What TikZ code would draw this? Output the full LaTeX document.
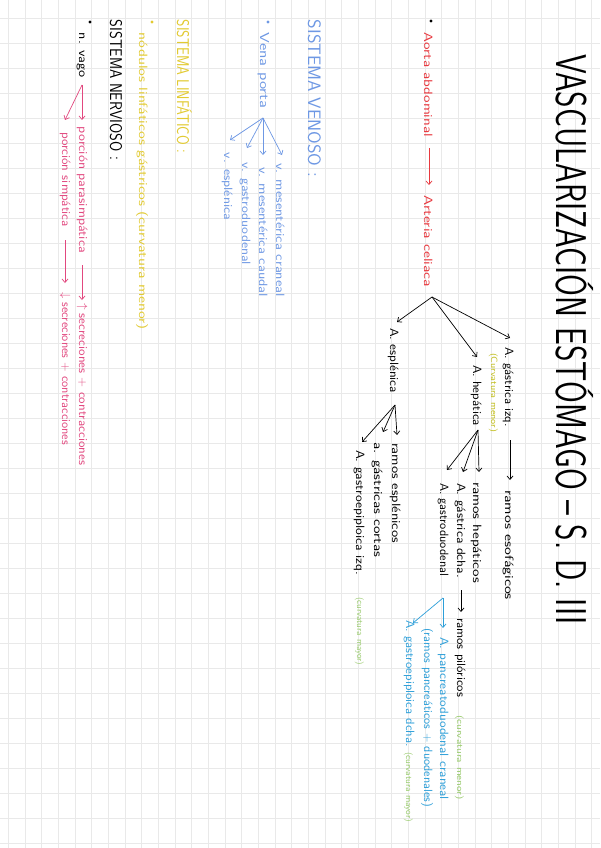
\documentclass[tikz,border=0pt]{standalone}
\usepackage{graphicx}
\usetikzlibrary{arrows.meta}
\definecolor{cred}{HTML}{E8393F}
\definecolor{colive}{HTML}{C2BE1E}
\definecolor{cgreen}{HTML}{9ACB6E}
\definecolor{cblue}{HTML}{2D9FD9}
\definecolor{cvein}{HTML}{6E98E4}
\definecolor{cyel}{HTML}{E2CA30}
\definecolor{cpink}{HTML}{E2487F}
\definecolor{cgrid}{HTML}{E9E9E9}
\newcommand{\fitw}[2]{\resizebox{#1pt}{\height}{#2}}
\begin{document}
\begin{tikzpicture}[x=1pt,y=-1pt,
  txt/.style={rotate=-90, anchor=base west, inner sep=0pt, outer sep=0pt},
  body/.style={txt, font=\sffamily\fontsize{12}{14}\selectfont},
  small/.style={txt, font=\sffamily\fontsize{9}{11}\selectfont},
  head/.style={txt, font=\sffamily\fontsize{18}{20}\selectfont},
  arr/.style={-{Straight Barb[length=3.5pt,width=6pt]}, line width=0.7pt},
  bullet/.style={circle, fill, inner sep=0pt, minimum size=3.4pt},
  gridline/.style={cgrid, line width=0.6pt}]
\useasboundingbox (0,0) rectangle (600,848);
\fill[white] (0,0) rectangle (600,848);
\foreach \i in {0,...,35} \draw[gridline] ({8.33+16.667*\i},0) -- ({8.33+16.667*\i},848);
\foreach \j in {0,...,33} \draw[gridline] (0,{18.3+25*\j}) -- (600,{18.3+25*\j});

% title
\node[txt, font=\sffamily\fontsize{43}{45}\selectfont] (title) at (556,55) {\fitw{570}{VASCULARIZACIÓN ESTÓMAGO – S. D. III}};

% arterial
\node[bullet, black] (b1) at (431,21) {};
\node[body, text=cred] (aorta) at (424,33) {\fitw{104}{Aorta abdominal}};
\node[body, text=cred] (cel) at (424,195) {\fitw{92}{Arteria celiaca}};
\coordinate (a1) at (429,148); \coordinate (a2) at (429,185);
\draw[arr, cred] (a1) -- (a2);

\node[body] (gi) at (505,347) {\fitw{80}{A. gástrica izq.}};
\node[small, text=colive] (cm1) at (491,353) {\fitw{79}{(Curvatura menor)}};
\node[body] (res) at (505,490) {\fitw{110}{ramos esofágicos}};
\coordinate (g1) at (510,440); \coordinate (g2) at (510,480);
\draw[arr] (g1) -- (g2);

\node[body] (hep) at (473,365) {\fitw{61}{A. hepática}};
\node[body] (rhep) at (473,482) {\fitw{101}{ramos hepáticos}};
\node[body] (gd) at (457,483) {\fitw{95}{A. gástrica dcha.}};
\node[body] (rpil) at (457,618) {\fitw{79}{ramos pilóricos}};
\node[small, text=cgreen] (cm2) at (457,715) {\fitw{85}{(curvatura menor)}};
\coordinate (d1) at (461,590); \coordinate (d2) at (461,612);
\draw[arr] (d1) -- (d2);
\node[body] (gdu) at (440,483) {\fitw{93}{A. gastroduodenal}};
\node[body, text=cblue] (pdc) at (440,637) {\fitw{163}{A. pancreatoduodenal craneal}};
\node[body, text=cblue] (rpd) at (424,628) {\fitw{179}{(ramos pancreáticos + duodenales)}};
\node[body, text=cblue] (ged) at (406,620) {\fitw{127}{A. gastroepiploica dcha.}};
\node[small, text=cgreen] (cM1) at (406,752) {\fitw{70}{(curvatura mayor)}};

\node[body] (esp) at (390,328) {\fitw{65}{A. esplénica}};
\node[body] (resp) at (392,443) {\fitw{100}{ramos esplénicos}};
\node[body] (gco) at (374,442) {\fitw{115}{a. gástricas cortas}};
\node[body] (gei) at (356,450) {\fitw{125}{A. gastroepiploica izq.}};
\node[small, text=cgreen] (cM2) at (357,597) {\fitw{68}{(curvatura mayor)}};

% celiac fan
\coordinate (oc) at (432,297);
\coordinate (tgi) at (510,338);
\coordinate (thep) at (477,357);
\coordinate (tesp) at (397,322);
\draw[arr] (oc) -- (tgi);
\draw[arr] (oc) -- (thep);
\draw[arr] (oc) -- (tesp);

% hepatic fan
\coordinate (oh) at (478,430);
\coordinate (trh) at (479,472);
\coordinate (tgd) at (463,472);
\coordinate (tgdu) at (447,470);
\draw[arr] (oh) -- (trh);
\draw[arr] (oh) -- (tgd);
\draw[arr] (oh) -- (tgdu);

% gastroduodenal fan
\coordinate (ogd) at (443,598);
\coordinate (tpdc) at (443,628);
\coordinate (tged) at (413,623);
\draw[arr, cblue] (ogd) -- (tpdc);
\draw[arr, cblue] (ogd) -- (tged);

% splenic fan
\coordinate (os) at (395,405);
\coordinate (tres) at (397,435);
\coordinate (tgco) at (383,432);
\coordinate (tgei) at (362,442);
\draw[arr] (os) -- (tres);
\draw[arr] (os) -- (tgco);
\draw[arr] (os) -- (tgei);

% venous
\node[head, text=cvein] (hven) at (308,20) {\fitw{157}{SISTEMA VENOSO :}};
\node[bullet, cvein] (b2) at (268,22) {};
\node[txt, font=\sffamily\fontsize{13}{15}\selectfont, text=cvein] (vp) at (260,33) {\fitw{75}{Vena porta}};
\node[body, text=cvein] (vmcr) at (276,163) {\fitw{134}{v. mesentérica craneal}};
\node[body, text=cvein] (vmca) at (259,167) {\fitw{130}{v. mesentérica caudal}};
\node[body, text=cvein] (vgd) at (242,162) {\fitw{103}{v. gastroduodenal}};
\node[body, text=cvein] (vesp) at (224,153) {\fitw{67}{v. esplénica}};
\coordinate (ov) at (263,118);
\coordinate (tv1) at (282,155);
\coordinate (tv2) at (263,155);
\coordinate (tv3) at (247,148);
\coordinate (tv4) at (230,140);
\draw[arr, cvein] (ov) -- (tv1);
\draw[arr, cvein] (ov) -- (tv2);
\draw[arr, cvein] (ov) -- (tv3);
\draw[arr, cvein] (ov) -- (tv4);

% lymphatic
\node[txt, font=\sffamily\fontsize{17}{19}\selectfont, text=cyel] (hlin) at (177,20) {\fitw{133}{SISTEMA LINFÁTICO :}};
\node[bullet, cyel] (b3) at (152,22) {};
\node[body, text=cyel] (nod) at (139,33) {\fitw{297}{nódulos linfáticos gástricos (curvatura menor)}};

% nervous
\node[txt, font=\sffamily\fontsize{17}{19}\selectfont] (hner) at (110,20) {\fitw{140}{SISTEMA NERVIOSO :}};
\node[bullet, black] (b4) at (90,22) {};
\node[body] (vago) at (79,33) {\fitw{45}{n. vago}};
\node[body, text=cpink] (para) at (79,127) {\fitw{126}{porción parasimpática}};
\node[body, text=cpink] (simp) at (62,132) {\fitw{95}{porción simpática}};
\node[body, text=cpink] (sup) at (79,303) {\fitw{162}{$\uparrow$ secreciones + contracciones}};
\node[body, text=cpink] (sdn) at (62,292) {\fitw{153}{$\downarrow$ secreciones + contracciones}};
\coordinate (on) at (82,85);
\coordinate (tn1) at (82,120);
\coordinate (tn2) at (65,120);
\draw[arr, cpink] (on) -- (tn1);
\draw[arr, cpink] (on) -- (tn2);
\coordinate (p1) at (82,265); \coordinate (p2) at (82,300);
\draw[arr, cpink] (p1) -- (p2);
\coordinate (s1) at (65,240); \coordinate (s2) at (65,283);
\draw[arr, cpink] (s1) -- (s2);
\end{tikzpicture}
\end{document}
